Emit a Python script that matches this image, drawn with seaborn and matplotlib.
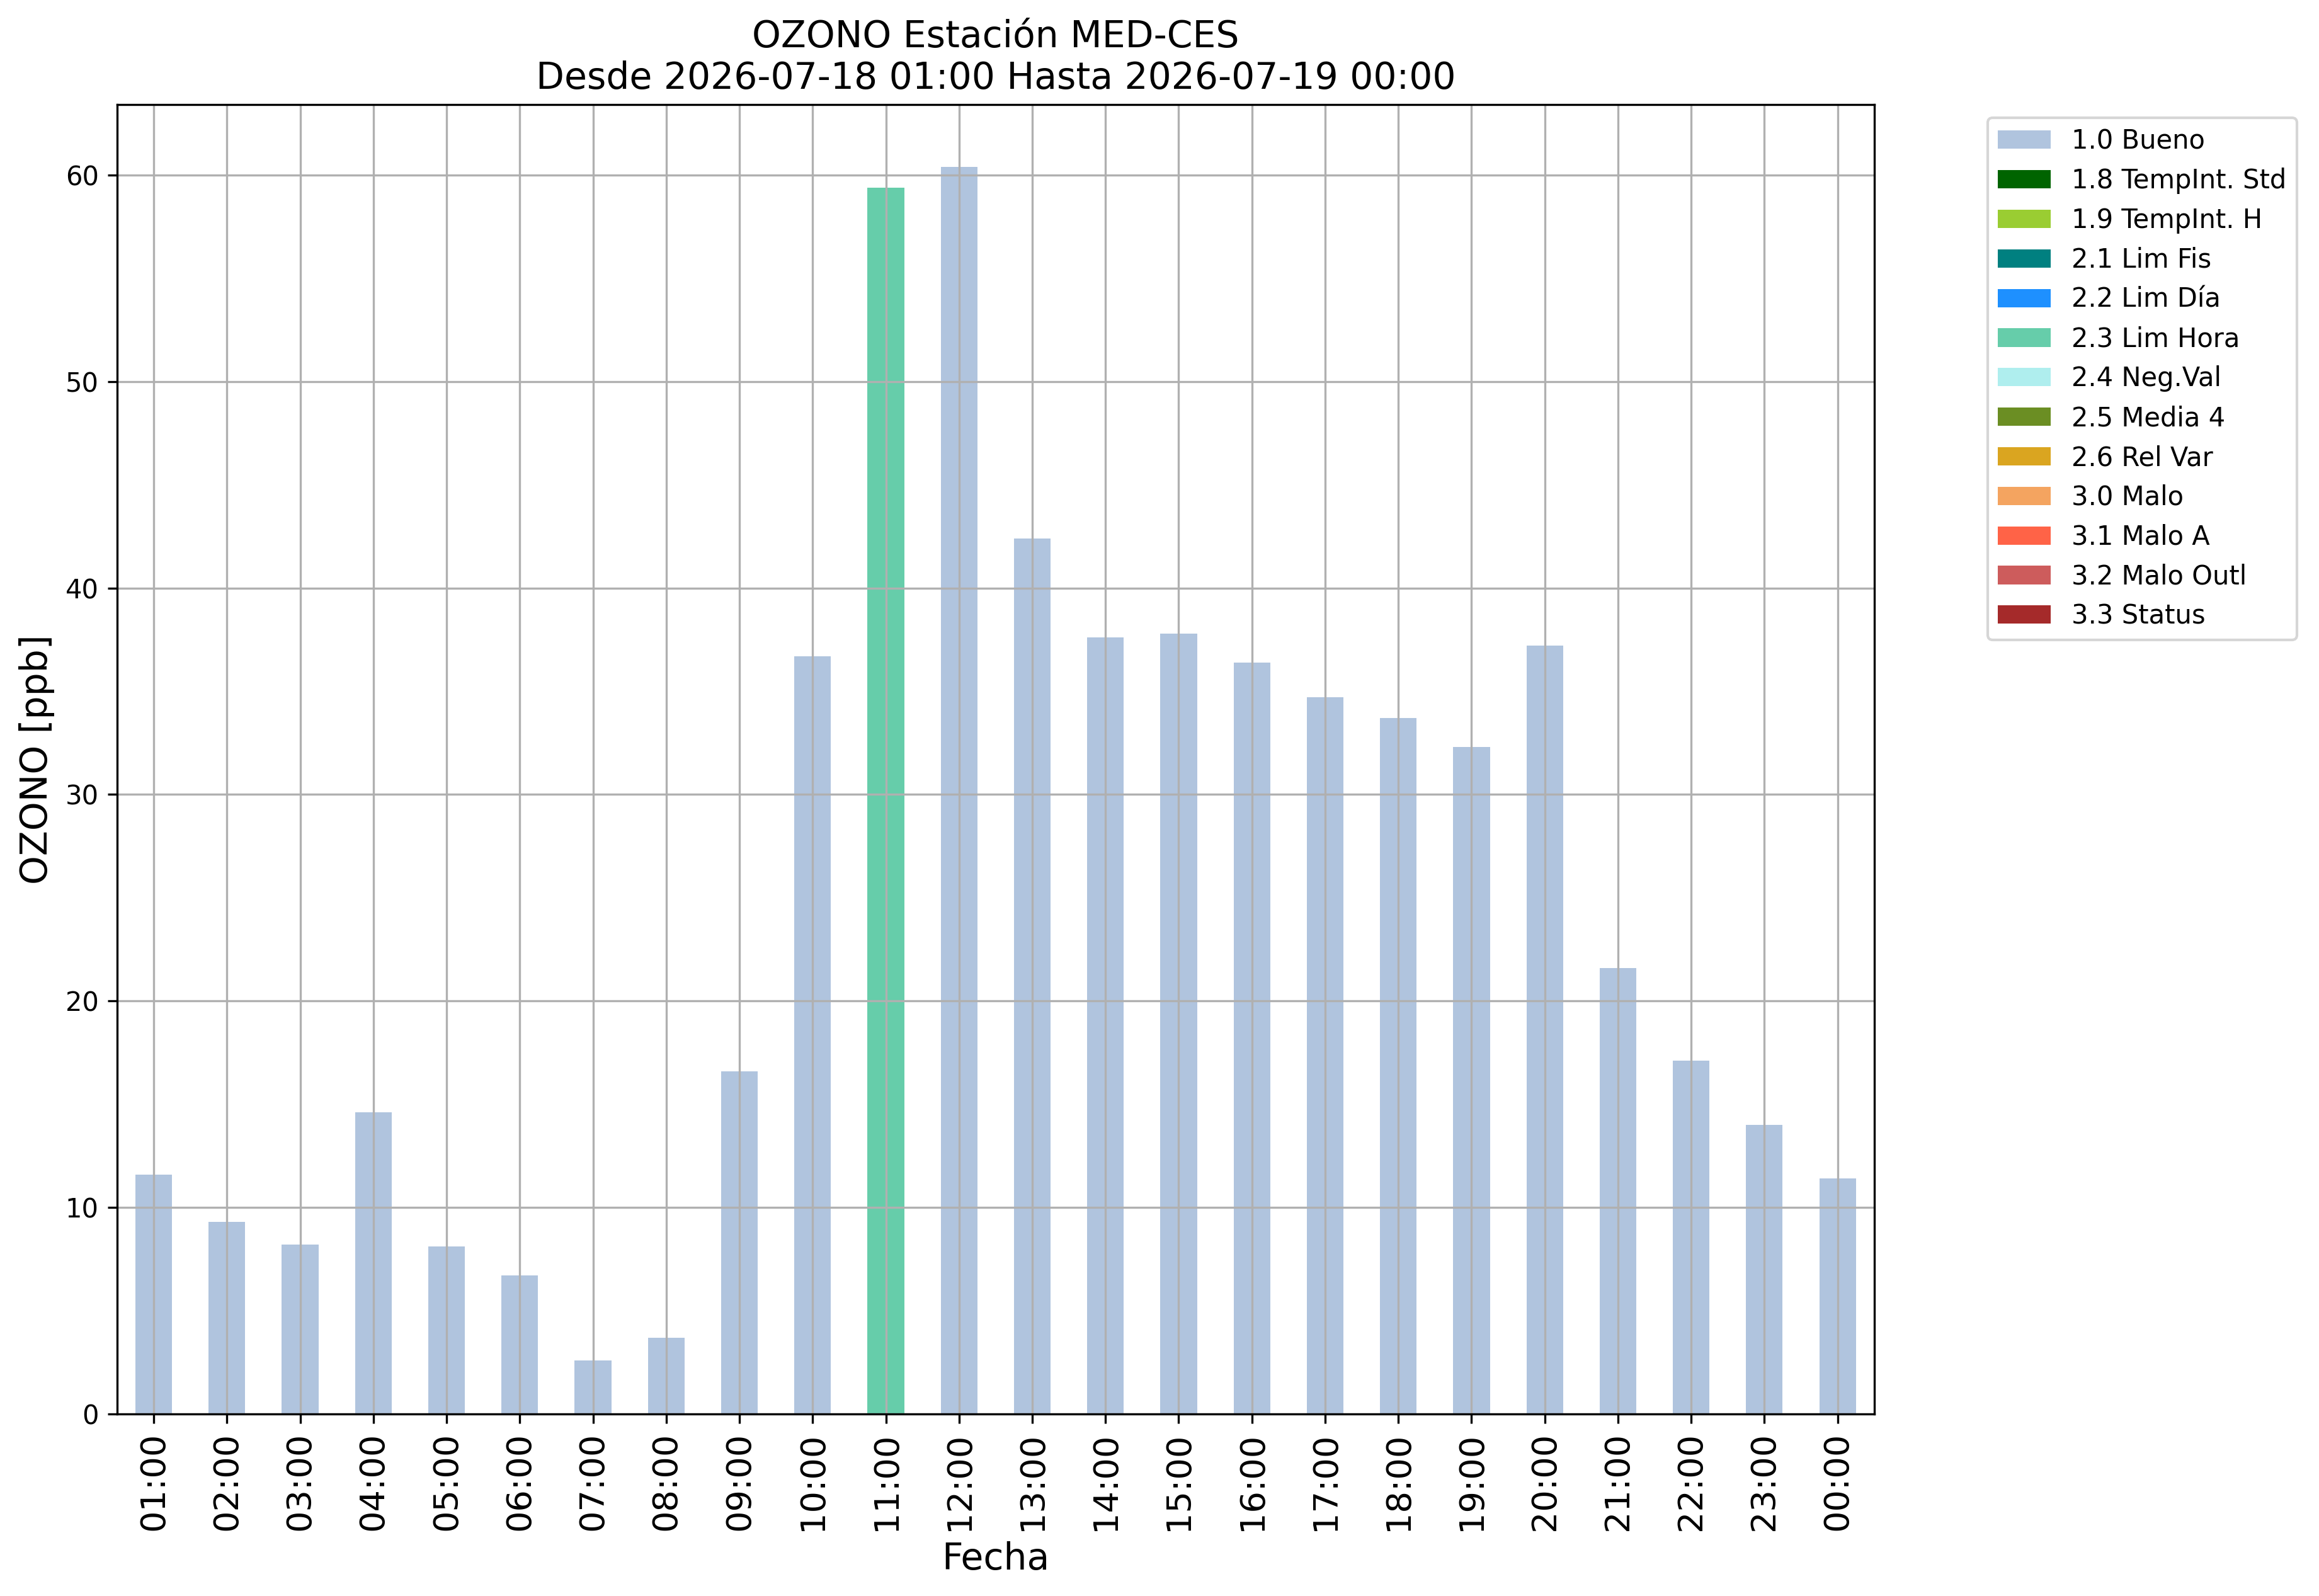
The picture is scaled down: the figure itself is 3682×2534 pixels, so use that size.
import pandas as pd
import matplotlib
matplotlib.use("Agg")
import matplotlib.pyplot as plt
from matplotlib.patches import Patch
import seaborn as sns

# hourly ozone values
horas = ['01:00', '02:00', '03:00', '04:00', '05:00', '06:00', '07:00', '08:00',
         '09:00', '10:00', '11:00', '12:00', '13:00', '14:00', '15:00', '16:00',
         '17:00', '18:00', '19:00', '20:00', '21:00', '22:00', '23:00', '00:00']
ozono = [11.6, 9.3, 8.2, 14.6, 8.1, 6.7, 2.6, 3.7,
         16.6, 36.7, 59.4, 60.4, 42.4, 37.6, 37.8, 36.4,
         34.7, 33.7, 32.3, 37.2, 21.6, 17.1, 14.0, 11.4]
flag = ['1.0 Bueno'] * 24
flag[10] = '2.3 Lim Hora'

# quality flags and their colours
etiquetas = ['1.0 Bueno', '1.8 TempInt. Std', '1.9 TempInt. H', '2.1 Lim Fis',
             '2.2 Lim Día', '2.3 Lim Hora', '2.4 Neg.Val', '2.5 Media 4',
             '2.6 Rel Var', '3.0 Malo', '3.1 Malo A', '3.2 Malo Outl', '3.3 Status']
colores = ['lightsteelblue', 'darkgreen', 'yellowgreen', 'teal',
           'dodgerblue', 'mediumaquamarine', 'paleturquoise', 'olivedrab',
           'goldenrod', 'sandybrown', 'tomato', 'indianred', 'brown']

df = pd.DataFrame({'Fecha': horas, 'OZONO': ozono, 'flag': flag})
paleta = dict(zip(etiquetas, colores))

fig = plt.figure(figsize=(3682 / 300, 2534 / 300), dpi=300)
ax = fig.add_axes([0.0505, 0.1141, 0.8082 - 0.0505, 0.9345 - 0.1141])

sns.barplot(data=df, x='Fecha', y='OZONO', hue='flag', order=horas,
            hue_order=etiquetas, palette=paleta, dodge=False, width=0.5,
            saturation=1, legend=False, ax=ax)

ax.grid(True)
ax.set_title("OZONO Estación MED-CES\nDesde 2026-07-18 01:00 Hasta 2026-07-19 00:00",
             fontsize=14)
ax.set_ylabel("OZONO [ppb]", fontsize=14)
ax.set_xlabel("Fecha", fontsize=14)
ax.tick_params(axis='x', labelsize=13, labelrotation=90)
ax.tick_params(axis='y', labelsize=10)

handles = [Patch(facecolor=c, label=l) for l, c in zip(etiquetas, colores)]
ax.legend(handles=handles, bbox_to_anchor=(1.057, 1), loc='upper left', fontsize=10)

fig.savefig("out.png", dpi=300)
